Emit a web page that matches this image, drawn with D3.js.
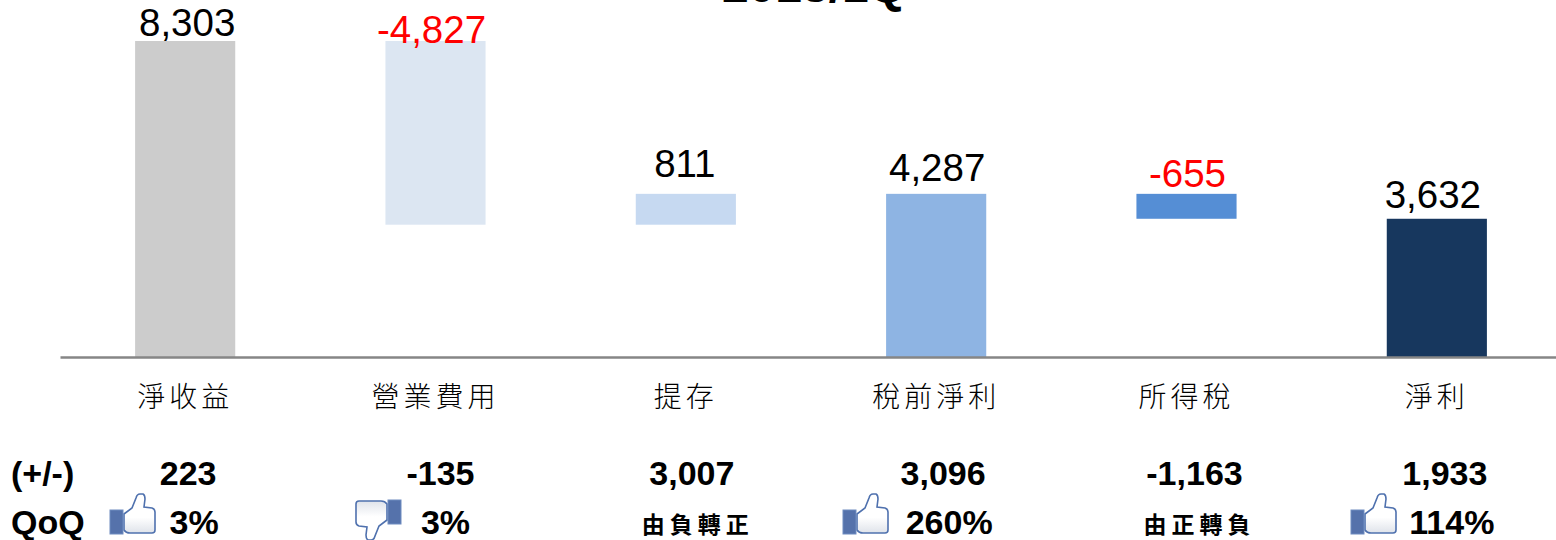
<!doctype html>
<html>
  <head>
  <meta charset="utf-8">
  <script type="text/javascript" src="https://cdn.jsdelivr.net/npm/d3@7"></script>
  <style>
    html, body { margin: 0; padding: 0; background: #fff; overflow: hidden; }
    svg { display: block; }
    text { font-family: "Liberation Sans", Arial, sans-serif; }
    .cjk { font-family: "Noto Sans CJK TC", sans-serif; }
  </style>
</head>
  <body>
<svg xmlns="http://www.w3.org/2000/svg" width="1556" height="540" viewBox="0 0 1556 540"></svg>
<script type="text/javascript">
var title = "2018/1Q";
var categories = ["淨收益", "營業費用", "提存", "稅前淨利", "所得稅", "淨利"];
var values = [8303, -4827, 811, 4287, -655, 3632];
var isTotal = [true, false, false, true, false, true];
var barColors = ["#cccccc", "#dce6f2", "#c6d9f1", "#8eb4e3", "#558ed5", "#17375e"];
var deltas = [223, -135, 3007, 3096, -1163, 1933];
var qoqText = ["3%", "3%", "由負轉正", "260%", "由正轉負", "114%"];
var qoqIcon = ["up", "down", null, "up", null, "up"];

// hand nudges so the labels sit where the slide had them
var labelDx = [2, -4, -1, 1, 1, -4];
var labelDy = [-5, 2, -17, -13, -7, -11];
var deltaDx = [3, 5, 6, 7, 8, 8];
var qoqDx = [9, 10, 12, 13, 13, 15];
var iconDx = [-25, 16, 0, -43, 0, -36];

var svg = d3.select("svg");
var baseY = 357;

var x = d3.scaleBand().domain(categories).range([60, 1562]).paddingInner(0.6).paddingOuter(0.3);
var y = d3.scaleLinear().domain([0, d3.max(values)]).range([baseY, 41]);
var fmt = d3.formatLocale({decimal: ".", thousands: ",", grouping: [3], currency: ["", ""], minus: "-"}).format(",");

// waterfall: totals start at zero, the others float from the running level
var running = 0;
var bars = values.map((v, i) => {
  var from = isTotal[i] ? 0 : running;
  var to = isTotal[i] ? v : running + v;
  running = to;
  return {cat: categories[i], value: v, low: Math.min(from, to), high: Math.max(from, to), color: barColors[i], i: i};
});

svg.append("text")
  .attr("x", 814).attr("y", 2)
  .attr("text-anchor", "middle")
  .style("font-size", "48px").style("font-weight", "bold")
  .text(title);

svg.selectAll("rect.bar")
  .data(bars)
  .enter()
  .append("rect")
  .attr("class", "bar")
  .attr("x", d => x(d.cat))
  .attr("width", x.bandwidth())
  .attr("y", d => y(d.high))
  .attr("height", d => y(d.low) - y(d.high))
  .style("fill", d => d.color);

var axis = svg.append("g")
  .attr("transform", "translate(0," + baseY + ")")
  .call(d3.axisBottom(x).tickSize(0).tickPadding(30));
axis.select(".domain")
  .style("stroke", "#868686")
  .style("stroke-width", "2.5px");
axis.selectAll("text")
  .attr("class", "cjk")
  .style("font-size", "28px")
  .style("font-weight", "300")
  .style("letter-spacing", "4px")
  .style("fill", "#000");

svg.selectAll("text.val")
  .data(bars)
  .enter()
  .append("text")
  .attr("class", "val")
  .attr("x", d => x(d.cat) + x.bandwidth() / 2 + labelDx[d.i])
  .attr("y", d => y(d.high) + labelDy[d.i])
  .attr("text-anchor", "middle")
  .style("font-size", "38.5px")
  .style("fill", d => d.value < 0 ? "#ff0000" : "#000")
  .text(d => fmt(d.value));

// bottom table
[["(+/-)", 485], ["QoQ", 534]].forEach(r => {
  svg.append("text")
    .attr("x", 11).attr("y", r[1])
    .style("font-size", "34px").style("font-weight", "bold")
    .text(r[0]);
});

svg.selectAll("text.delta")
  .data(deltas)
  .enter()
  .append("text")
  .attr("class", "delta")
  .attr("x", (d, i) => x(categories[i]) + x.bandwidth() / 2 + deltaDx[i])
  .attr("y", 485)
  .attr("text-anchor", "middle")
  .style("font-size", "34px").style("font-weight", "bold")
  .text(d => fmt(d));

svg.selectAll("text.qoq")
  .data(qoqText)
  .enter()
  .append("text")
  .attr("class", (d, i) => qoqIcon[i] ? "qoq" : "qoq cjk")
  .attr("x", (d, i) => x(categories[i]) + x.bandwidth() / 2 + qoqDx[i])
  .attr("y", (d, i) => qoqIcon[i] ? 534 : 533)
  .attr("text-anchor", "middle")
  .style("font-size", (d, i) => qoqIcon[i] ? "34px" : "23px")
  .style("font-weight", "bold")
  .style("letter-spacing", (d, i) => qoqIcon[i] ? "0" : "5px")
  .text(d => d);

// thumb icons
var grad = svg.append("defs").append("linearGradient")
  .attr("id", "hand").attr("x1", 0).attr("y1", 0).attr("x2", 0).attr("y2", 1);
grad.append("stop").attr("offset", "0.6").attr("stop-color", "#ffffff");
grad.append("stop").attr("offset", "1").attr("stop-color", "#dfe3ea");

var handPath = "M14,21 L22,15 L26,5 Q27,1 30,1 L33,1 Q35,2 35,6 L34,14 L42,15 Q45,16 45,19 L45,37 Q45,40 42,40 L20,40 Q16,40 14,37 Z";

qoqIcon.forEach((kind, i) => {
  if (!kind) return;
  var left = Math.round(x(categories[i]) + iconDx[i]);
  var g = svg.append("g")
    .attr("class", "thumb")
    .attr("transform", kind == "up" ? "translate(" + left + ",493)" : "translate(" + left + ",541) rotate(180)");
  g.append("path").attr("d", handPath)
    .style("fill", "url(#hand)")
    .style("stroke", "#4f71ae")
    .style("stroke-width", "1.6px");
  g.append("rect").attr("x", 0).attr("y", 17).attr("width", 13).attr("height", 24)
    .style("fill", "#5572ab")
    .style("stroke", "#6f8cc0")
    .style("stroke-width", "1px");
});
</script>
</body>
</html>
